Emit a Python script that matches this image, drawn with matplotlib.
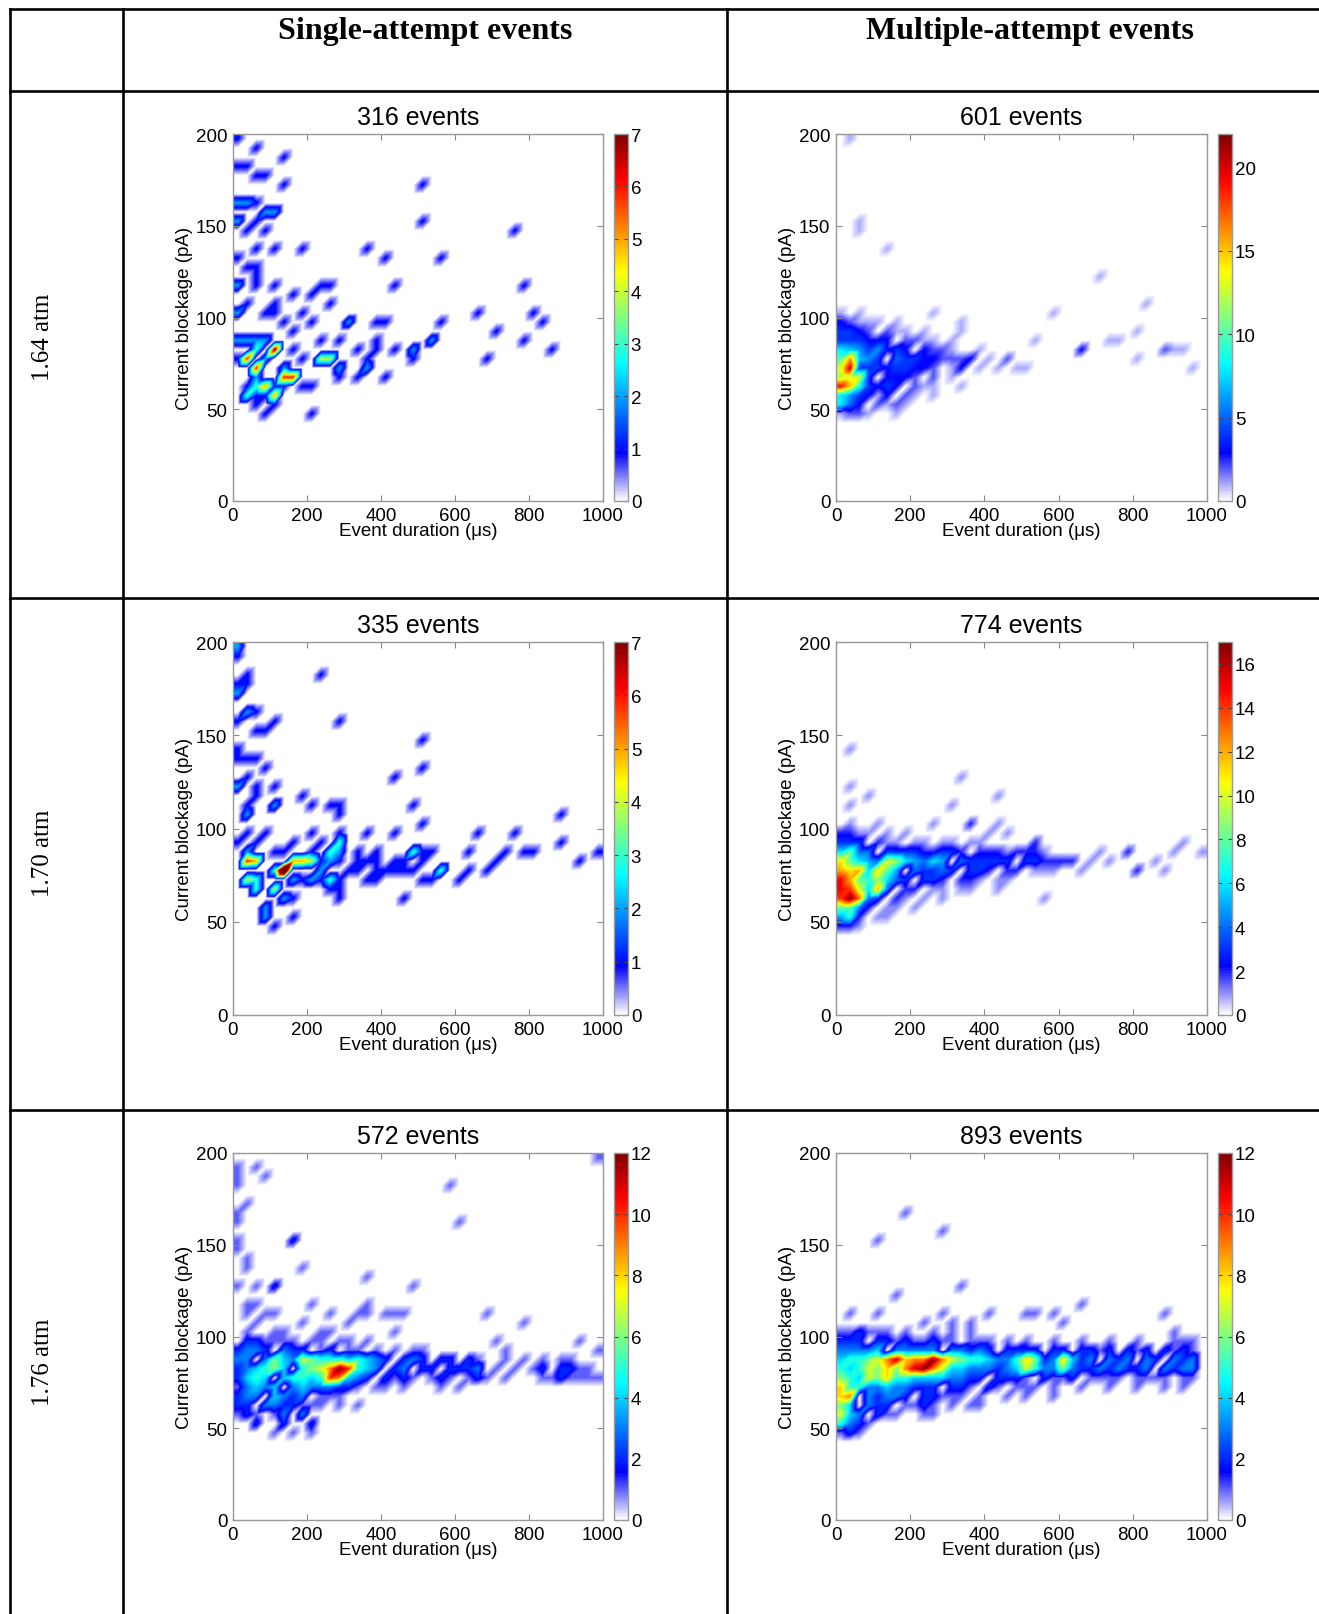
"""
Event-density maps (current blockage vs. event duration) laid out as a
3 x 2 table: rows = applied pressure, columns = single / multiple attempts.
"""

import numpy as np
import matplotlib
matplotlib.use("Agg")
import matplotlib.pyplot as plt
import matplotlib.tri as mtri
from matplotlib.colors import LinearSegmentedColormap
from matplotlib.lines import Line2D

# ── data ─────────────────────────────────────────────────────────────
# isolated events: duration (us), current (pA), count
# *_BAND rows: (current bin start pA, duration start us, counts per 25-us bin)

SA164_DUR = [18, 60, 9, 40, 65, 96, 144, 144, 10, 30, 47, 65, 15, 29, 74, 96, 119, 92, 78, 105,
             119, 74, 182, 20, 38, 60, 74, 15, 119, 56, 164, 200, 227, 263, 263,
             15, 38, 83, 100, 114, 137, 182, 200, 15, 40, 65, 92,
             38, 51, 20, 74, 92, 110, 123, 74, 92, 110, 65, 47, 146, 164, 137,
             74, 110, 38, 182, 200, 200, 78, 164, 173, 191, 227, 254, 236, 272, 245, 290,
             380, 344, 362, 380, 398, 416, 322, 290, 299, 326, 371, 407, 425,
             448, 407, 367, 489, 489, 524, 524, 569, 534, 547, 574, 650, 714, 692, 754, 777, 777,
             817, 840, 858]
SA164_CUR = [196, 192, 180, 184, 175, 179, 188, 172, 163, 163, 163, 164, 153, 147, 151, 156, 155, 147, 159, 159,
             136, 135, 135, 131, 127, 126, 123, 118, 118, 115, 114, 114, 115, 118, 107,
             104, 106, 104, 104, 107, 97, 102, 95, 87, 87, 86, 89,
             77, 73, 78, 80, 77, 82, 84, 68, 62, 58, 62, 58, 67, 66, 71,
             53, 53, 57, 64, 62, 48, 45, 91, 80, 79, 78, 77, 75, 78, 85, 86,
             97, 80, 77, 84, 88, 95, 95, 73, 69, 65, 73, 69, 81,
             115, 131, 139, 82, 77, 171, 151, 131, 88, 86, 97, 102, 94, 77, 147, 115, 86,
             102, 98, 81]
SA164_N = [1, 1, 1, 1, 1, 1, 1, 1, 2, 1, 1, 1, 2, 1, 1, 1, 1, 1, 1, 1,
           1, 1, 1, 1, 1, 1, 1, 2, 1, 1, 1, 1, 1, 1, 1,
           2, 1, 1, 1, 1, 1, 1, 1, 1, 1, 1, 1,
           6, 6, 1, 3, 2, 3, 4, 2, 4, 4, 3, 2, 6, 6, 2,
           1, 1, 1, 1, 1, 1, 1, 1, 1, 1, 2, 3, 2, 1, 1, 1,
           1, 1, 1, 1, 1, 1, 2, 2, 1, 1, 2, 1, 1,
           1, 1, 1, 2, 1, 1, 1, 1, 1, 1, 1, 1, 1, 1, 1, 1, 1,
           1, 1, 1]
SA164_BAND = [(85, 0, [1, 1, 1, 1]),
              (60, 25, [1, 0, 1, 1, 1]),
              (55, 50, [1, 1, 1])]

MA164_DUR = [41, 52, 61, 142, 268, 331, 344, 313, 322, 367, 349, 376, 403, 429, 466, 493, 502, 528,
             591, 654, 672, 713, 730, 771, 816, 834, 816, 879, 900, 937, 960, 330, 340, 380, 300]
MA164_CUR = [196, 149, 152, 139, 102, 91, 95, 77, 66, 77, 73, 71, 79, 73, 79, 73, 70, 86,
             102, 81, 81, 123, 86, 86, 94, 107, 77, 81, 81, 81, 73, 75, 62, 82, 85]
MA164_N = [1, 1, 1, 1, 1, 1, 1, 1, 1, 3, 3, 1, 1, 1, 2, 1, 1, 1,
           1, 2, 1, 1, 1, 1, 1, 1, 1, 2, 1, 1, 1, 2, 1, 1, 1]
MA164_BAND = [(45, 0, [1, 2, 2, 1, 0, 0, 1]),
              (50, 0, [8, 5, 3, 0, 2, 1, 2, 1]),
              (55, 0, [8, 6, 4, 3, 1, 3, 0, 2, 1, 0, 1]),
              (60, 0, [19, 15, 9, 4, 3, 4, 3, 0, 2, 1, 1]),
              (65, 0, [12, 13, 13, 4, 0, 3, 3, 3, 2, 0, 2]),
              (70, 0, [13, 20, 4, 4, 4, 3, 4, 4, 3, 3, 2, 0, 1]),
              (75, 0, [10, 16, 7, 6, 4, 0, 5, 4, 4, 3, 3, 2, 1]),
              (80, 0, [8, 7, 6, 4, 6, 3, 4, 3, 0, 3, 2, 2, 1]),
              (85, 0, [4, 4, 4, 3, 3, 3, 0, 2, 2, 1, 1]),
              (90, 0, [4, 4, 3, 2, 0, 2, 1, 1, 0, 1]),
              (95, 0, [3, 2, 1, 1, 1, 0, 1]),
              (100, 0, [1, 0, 1])]

SA170_DUR = [20, 20, 11, 33, 42, 11, 47, 65, 33, 20, 60, 78, 119, 15, 20, 42, 65, 42, 20, 78, 65, 119,
             38, 56, 33, 38, 101, 119, 191, 218, 267, 285, 299, 227, 281,
             20, 38, 56, 47, 65, 38, 56, 74, 101, 92, 83, 119, 159, 146, 128,
             128, 146, 110, 101, 128, 164, 200, 227, 92,
             164, 191, 218, 254, 281, 299, 236, 263, 200, 173, 254, 299, 299, 164,
             200, 281,
             326, 344, 362, 380, 398, 425, 362, 389, 452, 470, 488, 515, 533, 506,
             371, 425, 488, 515, 425, 524, 524,
             515, 533, 551, 569, 470,
             614, 632, 626, 650, 695, 713, 740, 759, 795, 813, 876, 894, 939, 975]
SA170_CUR = [197, 192, 176, 179, 181, 171, 164, 164, 160, 155, 151, 151, 159, 144, 135, 135, 135, 128, 122, 130, 124, 123,
             114, 115, 108, 99, 112, 112, 115, 112, 112, 107, 114, 184, 155,
             90, 89, 94, 81, 80, 74, 71, 69, 67, 58, 52, 49, 54, 62, 62,
             77, 78, 78, 87, 89, 90, 89, 94, 99,
             81, 80, 81, 85, 89, 90, 76, 74, 71, 71, 67, 67, 60, 62,
             99, 99,
             85, 80, 81, 85, 80, 83, 74, 74, 76, 81, 87, 89, 89, 81,
             99, 95, 110, 103, 127, 132, 147,
             71, 74, 78, 78, 62,
             73, 75, 85, 95, 78, 81, 87, 95, 86, 86, 107, 90, 81, 87]
SA170_N = [2, 1, 1, 1, 1, 2, 1, 1, 1, 1, 1, 1, 1, 1, 1, 1, 1, 1, 2, 1, 1, 1,
           1, 1, 2, 1, 1, 1, 1, 1, 1, 1, 1, 1, 1,
           1, 2, 1, 6, 5, 4, 3, 3, 4, 2, 2, 1, 1, 1, 1,
           6, 5, 3, 1, 1, 1, 1, 1, 1,
           3, 3, 3, 3, 2, 3, 2, 2, 1, 1, 1, 1, 1, 1,
           1, 1,
           1, 1, 1, 1, 1, 1, 1, 1, 1, 1, 3, 1, 1, 1,
           1, 1, 1, 1, 1, 1, 1,
           1, 1, 2, 1, 1,
           1, 1, 1, 1, 1, 1, 1, 1, 1, 1, 1, 1, 1, 1]
SA170_BAND = [(80, 150, [2, 2, 1, 1, 2, 1]),
              (70, 150, [1, 1, 1, 1, 1, 1]),
              (75, 300, [1, 1, 0, 1, 1, 1, 0, 1])]

MA170_DUR = [25, 43, 84, 25, 43, 102, 187, 304, 326, 371, 447, 447, 528, 573, 636, 663, 690, 708,
             735, 775, 816, 874, 883, 915, 942, 978, 425, 250, 350, 403, 470]
MA170_CUR = [140, 123, 119, 111, 103, 103, 99, 111, 127, 103, 119, 103, 94, 64, 83, 78, 82, 85,
             83, 85, 77, 83, 78, 89, 91, 85, 65, 100, 100, 95, 95]
MA170_N = [1, 1, 1, 1, 1, 1, 1, 1, 1, 1, 1, 1, 2, 1, 1, 1, 1, 1,
           1, 2, 2, 1, 1, 1, 1, 1, 1, 1, 1, 1, 1]
MA170_BAND = [(45, 0, [2, 2, 1]),
              (50, 0, [5, 7, 2, 0, 1, 1]),
              (55, 0, [8, 8, 4, 2, 0, 1, 1, 0, 1]),
              (60, 0, [14, 17, 13, 4, 3, 0, 2, 1, 0, 1, 0, 1]),
              (65, 0, [15, 14, 10, 6, 12, 4, 0, 2, 2, 0, 1, 1, 0, 1, 1]),
              (70, 0, [15, 12, 8, 7, 9, 6, 4, 3, 0, 3, 3, 2, 0, 2, 2, 1, 0, 1, 1]),
              (75, 0, [12, 11, 12, 6, 11, 8, 5, 0, 4, 3, 3, 4, 3, 0, 3, 3, 2, 0, 2, 2, 0, 1, 1, 1]),
              (80, 0, [11, 8, 6, 5, 4, 10, 9, 6, 5, 4, 6, 5, 0, 4, 3, 3, 3, 3, 3, 0, 3, 3, 2, 2, 2, 1]),
              (85, 0, [6, 8, 4, 4, 0, 3, 3, 3, 3, 2, 2, 3, 3, 2, 0, 2, 2, 2, 1, 2, 2, 2, 1]),
              (90, 0, [3, 3, 3, 0, 2, 1, 1, 0, 1, 1, 0, 1, 1, 0, 1, 1]),
              (95, 0, [2, 2, 1, 1, 0, 1])]

SA176_DUR = [11, 20, 11, 33, 24, 24, 24, 24, 33, 65, 83, 164, 164, 182, 119, 101,
             47, 20, 56, 42, 65, 47, 74, 92, 119, 119, 137, 101, 38, 200, 191, 227, 263, 272, 308, 326,
             362, 367, 371, 425, 470, 425, 371, 489, 308,
             74, 110, 128, 164, 182, 209, 218, 146, 344,
             695, 713, 749, 778, 939, 957, 975, 587, 608, 979, 416, 600, 560]
SA176_CUR = [190, 185, 181, 174, 169, 161, 154, 147, 143, 193, 189, 154, 150, 139, 129, 125,
             136, 125, 127, 119, 119, 112, 108, 112, 114, 103, 103, 99, 103, 118, 107, 103, 110, 103, 98, 114,
             118, 130, 110, 114, 114, 101, 96, 127, 108,
             52, 48, 52, 48, 56, 52, 45, 57, 62,
             110, 98, 92, 106, 98, 77, 94, 180, 160, 197, 112, 70, 72]
SA176_N = [1, 1, 1, 1, 1, 1, 1, 1, 1, 1, 1, 1, 1, 1, 1, 1,
           1, 1, 1, 1, 1, 1, 1, 1, 1, 1, 1, 1, 1, 1, 1, 1, 1, 1, 1, 1,
           1, 1, 1, 1, 1, 1, 1, 1, 1,
           2, 1, 2, 1, 2, 2, 1, 2, 1,
           1, 1, 1, 1, 1, 1, 1, 1, 1, 1, 1, 1, 1]
SA176_BAND = [(55, 0, [1, 2, 1, 0, 1, 1, 0, 1]),
              (60, 0, [2, 2, 0, 3, 3, 2, 2, 1, 1, 1, 0, 1]),
              (65, 0, [2, 3, 3, 0, 4, 3, 2, 3, 0, 1, 1, 1]),
              (70, 0, [1, 3, 4, 3, 4, 0, 3, 4, 3, 3, 3, 2, 2, 1, 0, 1, 1, 0, 1]),
              (75, 0, [2, 4, 5, 4, 0, 4, 5, 5, 4, 5, 10, 9, 4, 3, 2, 0, 2, 1, 2, 1,
                       0, 1, 2, 1, 0, 1, 2, 1, 0, 1, 0, 0, 0, 1, 1, 2, 1, 1, 0, 1]),
              (80, 0, [2, 3, 4, 5, 6, 4, 0, 5, 6, 7, 9, 12, 10, 5, 4, 3, 0, 2, 3, 0,
                       2, 2, 0, 2, 2, 2, 3, 0, 1, 0, 1, 0, 1, 2, 0, 2, 2, 1, 1, 0]),
              (85, 0, [3, 3, 0, 3, 6, 4, 3, 7, 6, 5, 5, 5, 4, 5, 4, 3, 2, 0, 2, 3,
                       2, 0, 2, 2, 0, 2, 1, 0, 0, 1, 0, 1, 0, 1, 0, 1, 1]),
              (90, 0, [2, 3, 3, 2, 0, 3, 2, 2, 0, 1, 2, 0, 1, 1, 0, 1, 0, 1, 0, 1, 1]),
              (95, 0, [0, 2, 2, 1, 0, 1, 1, 0, 1, 1, 0, 1])]

MA176_DUR = [182, 120, 286, 164, 344, 41, 102, 672, 510, 537, 582, 609, 897, 420, 367, 322,
             245, 286, 943, 915]
MA176_CUR = [168, 151, 155, 123, 127, 114, 113, 119, 114, 111, 110, 107, 111, 111, 109, 105,
             106, 111, 97, 100]
MA176_N = [1, 1, 1, 1, 1, 1, 1, 1, 1, 1, 1, 1, 1, 1, 1, 1,
           1, 1, 1, 1]
MA176_BAND = [(45, 0, [1, 2, 1]),
              (50, 0, [5, 3, 2, 1]),
              (55, 0, [7, 4, 3, 0, 2, 1, 1, 0, 0, 1, 1]),
              (60, 0, [6, 4, 0, 3, 2, 2, 0, 1, 1, 2, 1, 0, 1, 0, 1, 1]),
              (65, 0, [8, 9, 0, 3, 2, 3, 3, 2, 0, 2, 2, 1, 1, 1, 0, 1, 0, 0, 1, 0, 1, 0, 0, 1]),
              (70, 0, [8, 5, 5, 3, 3, 4, 3, 3, 2, 2, 2, 0, 2, 2, 1, 0, 2, 1, 0, 1,
                       1, 1, 0, 1, 0, 0, 1, 0, 0, 1, 0, 0, 1, 0, 0, 1, 0, 1, 0]),
              (75, 0, [6, 5, 4, 7, 6, 8, 5, 5, 4, 4, 4, 4, 3, 3, 2, 2, 0, 2, 2, 2,
                       1, 0, 2, 1, 1, 2, 0, 1, 1, 1, 1, 0, 1, 1, 1, 1, 0, 1, 1]),
              (80, 0, [5, 4, 5, 7, 6, 8, 6, 9, 11, 12, 9, 7, 4, 4, 3, 3, 3, 2, 3, 4,
                       7, 5, 3, 3, 6, 3, 2, 2, 3, 2, 3, 2, 2, 3, 0, 3, 2, 3, 3]),
              (85, 0, [4, 5, 5, 6, 7, 9, 11, 8, 9, 9, 12, 9, 7, 6, 5, 5, 4, 3, 3, 5,
                       8, 6, 2, 3, 8, 4, 2, 3, 0, 3, 2, 3, 0, 3, 2, 0, 3, 2, 3]),
              (90, 0, [3, 3, 3, 3, 4, 0, 3, 3, 3, 3, 3, 0, 3, 3, 2, 3, 2, 0, 2, 2,
                       2, 2, 0, 2, 2, 0, 2, 2, 1, 2, 0, 2, 1, 2, 0, 2, 1, 2, 1]),
              (95, 0, [2, 2, 2, 0, 2, 2, 1, 2, 1, 1, 2, 1, 1, 0, 1, 1, 1, 0, 1, 0,
                       1, 0, 0, 1, 0, 0, 1, 0, 0, 1, 0, 0, 1, 0, 0, 0, 1, 0, 1]),
              (100, 0, [1, 1, 2, 1, 1, 1, 0, 1, 0, 0, 1, 0, 1, 0, 1])]

ROW_LABELS = ["1.64 atm", "1.70 atm", "1.76 atm"]
COL_LABELS = ["Single-attempt events", "Multiple-attempt events"]
TITLES = [["316 events", "601 events"],
          ["335 events", "774 events"],
          ["572 events", "893 events"]]
SERIES = [[(SA164_DUR, SA164_CUR, SA164_N, SA164_BAND), (MA164_DUR, MA164_CUR, MA164_N, MA164_BAND)],
          [(SA170_DUR, SA170_CUR, SA170_N, SA170_BAND), (MA170_DUR, MA170_CUR, MA170_N, MA170_BAND)],
          [(SA176_DUR, SA176_CUR, SA176_N, SA176_BAND), (MA176_DUR, MA176_CUR, MA176_N, MA176_BAND)]]
VMAX = [[7, 22], [7, 17], [12, 12]]
CBAR_TICKS = [[range(0, 8), range(0, 21, 5)],
              [range(0, 8), range(0, 17, 2)],
              [range(0, 13, 2), range(0, 13, 2)]]

X_STEP, Y_STEP = 25, 5
X_EDGES = np.arange(0, 1001, X_STEP)
Y_EDGES = np.arange(0, 201, Y_STEP)

# ── layout (pixel boxes in the 1319 x 1615 canvas) ───────────────────
W, H = 1319, 1615
COL_X = [(233, 603), (836, 1207)]
CBAR_X = [(614, 628), (1218, 1232)]
ROW_Y = [(135, 502), (643, 1016), (1154, 1521)]

# white -> blue -> jet
CMAP = LinearSegmentedColormap.from_list("white_jet", [
    (0.0, (1, 1, 1)), (0.13, (0, 0, 1)), (0.375, (0, 1, 1)),
    (0.625, (1, 1, 0)), (0.875, (1, 0, 0)), (1.0, (0.5, 0, 0))])

plt.rcParams["font.family"] = ["Liberation Sans", "DejaVu Sans"]


def count_grid(dur, cur, n, band):
    grid, _, _ = np.histogram2d(dur, cur, bins=[X_EDGES, Y_EDGES], weights=n)
    grid = grid.T
    for y0, x0, counts in band:
        j, i = y0 // Y_STEP, x0 // X_STEP
        grid[j, i:i + len(counts)] += counts
    return grid


# node mesh at bin centres, each quad split along "/" (like shading interp)
XC = X_EDGES[:-1] + X_STEP / 2
YC = Y_EDGES[:-1] + Y_STEP / 2
NX, NY = len(XC), len(YC)
_gx, _gy = np.meshgrid(XC, YC)
_tris = []
for j in range(NY - 1):
    for i in range(NX - 1):
        a = j * NX + i
        _tris.append([a, a + 1, a + NX + 1])
        _tris.append([a, a + NX + 1, a + NX])
MESH = mtri.Triangulation(_gx.ravel(), _gy.ravel(), np.array(_tris))
_sx = np.clip(np.linspace(0, 1000, 740), XC[0] + 1e-6, XC[-1] - 1e-6)
_sy = np.clip(np.linspace(0, 200, 734), YC[0] + 1e-6, YC[-1] - 1e-6)
SX, SY = np.meshgrid(_sx, _sy)


def smooth_image(grid):
    interp = mtri.LinearTriInterpolator(MESH, grid.ravel())
    return interp(SX, SY).filled(0)


def px_box(x0, y0, x1, y1):
    return [x0 / W, 1 - y1 / H, (x1 - x0) / W, (y1 - y0) / H]


def fig_line(x0, y0, x1, y1):
    fig.add_artist(Line2D([x0 / W, x1 / W], [1 - y0 / H, 1 - y1 / H],
                          transform=fig.transFigure, color="black", lw=1.9))


fig = plt.figure(figsize=(W / 100, H / 100), dpi=100)

# table grid
for y in (10, 92, 599, 1111):
    fig_line(10, y, W, y)
for x in (10, 123, 727):
    fig_line(x, 10, x, H)

serif = ["Liberation Serif", "DejaVu Serif"]
for lbl, xc in zip(COL_LABELS, (425, 1030)):
    fig.text(xc / W, 1 - 31 / H, lbl, ha="center", va="center",
             fontsize=23, fontweight="bold", family=serif)
for lbl, yc in zip(ROW_LABELS, (337, 853, 1362)):
    fig.text(43 / W, 1 - yc / H, lbl, ha="center", va="center",
             rotation=90, fontsize=18, family=serif)

for r in range(3):
    for c in range(2):
        dur, cur, n, band = SERIES[r][c]
        img = smooth_image(count_grid(dur, cur, n, band))

        ax = fig.add_axes(px_box(COL_X[c][0], ROW_Y[r][0], COL_X[c][1], ROW_Y[r][1]))
        im = ax.imshow(img, origin="lower", extent=[0, 1000, 0, 200],
                       aspect="auto", cmap=CMAP, vmin=0, vmax=VMAX[r][c])
        ax.set_xlim(0, 1000)
        ax.set_ylim(0, 200)
        ax.set_xticks(range(0, 1001, 200))
        ax.set_yticks(range(0, 201, 50))
        ax.tick_params(direction="in", length=4, width=0.8, color="#888888",
                       labelsize=13.5, pad=4, top=True, right=True)
        for sp in ax.spines.values():
            sp.set_color("#999999")
            sp.set_linewidth(1.0)
        ax.set_title(TITLES[r][c], fontsize=18, pad=7)
        ax.set_xlabel("Event duration (μs)", fontsize=13.5, labelpad=-1)
        ax.set_ylabel("Current blockage (pA)", fontsize=13.5, labelpad=2)

        cax = fig.add_axes(px_box(CBAR_X[c][0], ROW_Y[r][0], CBAR_X[c][1], ROW_Y[r][1]))
        cb = fig.colorbar(im, cax=cax, ticks=list(CBAR_TICKS[r][c]))
        cb.outline.set_edgecolor("#999999")
        cb.outline.set_linewidth(1.0)
        cax.tick_params(direction="in", length=3, width=0.8, color="#444444",
                        labelsize=13.5, pad=2, left=True, right=True)

fig.savefig("out.png", dpi=100)
